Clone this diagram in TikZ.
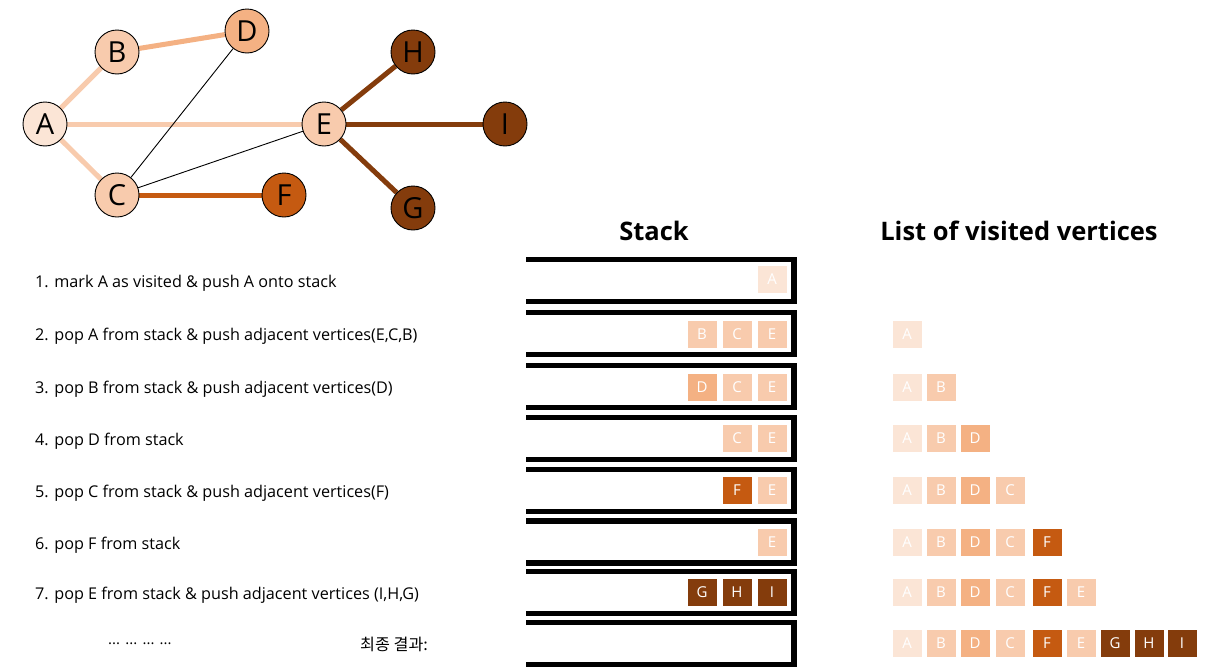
\documentclass[tikz,border=0pt]{standalone}
\usepackage{fontspec}
\setmainfont{Open Sans}
\newfontfamily\krfont{Noto Sans CJK KR}
\usetikzlibrary{backgrounds}
\definecolor{cA}{HTML}{FBE5D6}
\definecolor{cB}{HTML}{F8CBAD}
\definecolor{cD}{HTML}{F4B183}
\definecolor{cF}{HTML}{C55A11}
\definecolor{cG}{HTML}{843C0C}
\begin{document}
\begin{tikzpicture}[x=1pt,y=-1pt,
  vert/.style={circle,draw=black,line width=0.9pt,minimum size=44pt,inner sep=0pt,font=\fontsize{29}{29}\selectfont},
  sq/.style={draw=white,line width=0.8pt,minimum width=30pt,minimum height=28pt,inner sep=0pt,text=white,font=\fontsize{15}{15}\selectfont},
  fatedge/.style={line width=5pt},
  thinedge/.style={line width=0.9pt,draw=black},
  steptext/.style={anchor=west,inner sep=0pt,font=\fontsize{16.2}{16.2}\selectfont},
  title/.style={font=\fontsize{25.5}{25.5}\selectfont\bfseries,inner sep=0pt},
  stackline/.style={line width=5.5pt,line join=miter,draw=black}]
\useasboundingbox (0,0) rectangle (1208,672);

% graph vertices
\node[vert,fill=cA] (A) at (45,124) {A};
\node[vert,fill=cB] (B) at (117,52) {B};
\node[vert,fill=cD] (D) at (247,31) {D};
\node[vert,fill=cB] (C) at (117,195) {C};
\node[vert,fill=cF] (F) at (284,195) {F};
\node[vert,fill=cB] (E) at (324,124) {E};
\node[vert,fill=cG] (H) at (413,52) {H};
\node[vert,fill=cG] (I) at (505,124) {I};
\node[vert,fill=cG] (G) at (413,208) {G};

\begin{scope}[on background layer]
\draw[fatedge,cB] (A) -- (B);
\draw[fatedge,cB] (A) -- (C);
\draw[fatedge,cB] (A) -- (E);
\draw[fatedge,cD] (B) -- (D);
\draw[fatedge,cF] (C) -- (F);
\draw[fatedge,cG] (E) -- (H);
\draw[fatedge,cG] (E) -- (I);
\draw[fatedge,cG] (E) -- (G);
\draw[thinedge] (C) -- (D);
\draw[thinedge] (C) -- (E);
\end{scope}

% titles
\node[title] (tstack) at (654,231) {Stack};
\node[title] (tlist) at (1019,231) {List of visited vertices};

% step texts
\node[steptext] (t1) at (35,283) {1. mark A as visited \& push A onto stack};
\node[steptext] (t2) at (35,336) {2. pop A from stack \& push adjacent vertices(E,C,B)};
\node[steptext] (t3) at (35,389) {3. pop B from stack \& push adjacent vertices(D)};
\node[steptext] (t4) at (35,441) {4. pop D from stack};
\node[steptext] (t5) at (35,493) {5. pop C from stack \& push adjacent vertices(F)};
\node[steptext] (t6) at (35,545) {6. pop F from stack};
\node[steptext] (t7) at (35,595) {7. pop E from stack \& push adjacent vertices (I,H,G)};
\node[steptext] (t8) at (108,644) {\fontsize{15}{15}\selectfont ... ... ... ...};
\node[steptext] (t9) at (360,644) {\krfont 최종 결과:};

% stack brackets
\foreach \t in {259.5,312.5,365.5,417.5,469.5,521,571.5,622.5}
  \draw[stackline] (526,\t) -- (794,\t) -- (794,\t+42) -- (526,\t+42);

% stack contents
\foreach \x/\y/\l/\c [count=\i] in {772/279.5/A/cA,
  702/334/B/cB, 737/334/C/cB, 772/334/E/cB,
  702/387/D/cD, 737/387/C/cB, 772/387/E/cB,
  737/438/C/cB, 772/438/E/cB,
  737/490.5/F/cF, 772/490.5/E/cB,
  772/542/E/cB,
  702/592/G/cG, 737/592/H/cG, 772/592/I/cG}
  \node[sq,fill=\c] (s\i) at (\x,\y) {\l};

% visited lists
\foreach \y/\n [count=\r] in {334/1,387/2,438/3,490.5/4,542/5,592/6,643/9}{
  \foreach \x/\l/\c [count=\k] in {907/A/cA,941/B/cB,975/D/cD,1010/C/cB,1047/F/cF,1081/E/cB,1115/G/cG,1149/H/cG,1182/I/cG}{
    \ifnum\k>\n\relax\else
      \node[sq,fill=\c] (l\r-\k) at (\x,\y) {\l};
    \fi
  }
}
\end{tikzpicture}
\end{document}
